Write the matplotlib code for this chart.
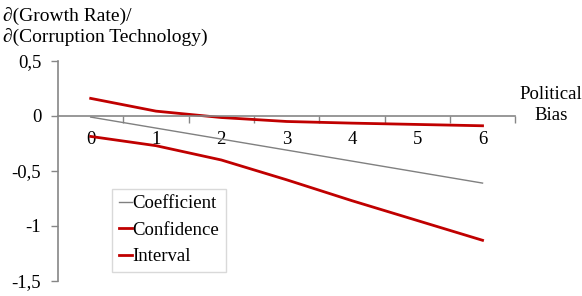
#!/usr/bin/env python3

import numpy as np
import matplotlib.pyplot as plt

# political bias levels
bias = [0, 1, 2, 3, 4, 5, 6]
coefficient = [-0.01, -0.11, -0.21, -0.31, -0.41, -0.51, -0.61]
ci_upper = [0.16, 0.044, -0.014, -0.05, -0.065, -0.077, -0.089]
ci_lower = [-0.186, -0.27, -0.40, -0.58, -0.77, -0.95, -1.13]

yticks = [0.5, 0, -0.5, -1, -1.5]
ytick_labels = ["0,5", "0", "-0,5", "-1", "-1,5"]

plt.rcParams['font.family'] = ['Liberation Serif', 'DejaVu Serif']
axis_col = "#868686"
red = "#C00000"

fig = plt.figure(figsize=(5.82, 2.96), dpi=100)
ax = fig.add_axes([0.0997, 0.0507, 0.7855, 0.7433])

ax.plot(bias, coefficient, color="#808080", lw=1.0, label="Coefficient")
ax.plot(bias, ci_upper, color=red, lw=2.0, label="Confidence")
ax.plot(bias, ci_lower, color=red, lw=2.0, label="Interval")

ax.set_xlim(-0.5, 6.5)
ax.set_ylim(-1.5, 0.5)

for s in ("top", "right"):
    ax.spines[s].set_visible(False)
ax.spines["bottom"].set_position(("data", 0))
ax.spines["bottom"].set_color(axis_col)
ax.spines["left"].set_color(axis_col)
ax.spines["bottom"].set_linewidth(1.2)
ax.spines["left"].set_linewidth(1.2)

ax.set_yticks(yticks)
ax.set_yticklabels(ytick_labels)
ax.tick_params(axis="y", length=5, color=axis_col, labelsize=13.5, pad=7, width=1)

ax.set_xticks(bias)
ax.set_xticklabels([str(b) for b in bias])
ax.set_xticks(np.arange(0.5, 7, 1.0), minor=True)
ax.tick_params(axis="x", which="major", length=0, labelsize=13.5, pad=11)
ax.tick_params(axis="x", which="minor", length=5, color=axis_col, width=1)

fig.text(0.005, 0.975, "\u2202(Growth Rate)/\n\u2202(Corruption Technology)",
         ha="left", va="top", fontsize=14, linespacing=1.2,
         family=['Liberation Serif', 'DejaVu Serif'])
fig.text(0.947, 0.645, "Political\nBias", ha="center", va="center",
         fontsize=13.5, linespacing=1.25)

leg = ax.legend(loc="upper left", bbox_to_anchor=(0.118, 0.42), fontsize=13.5,
                frameon=True, fancybox=False, handlelength=0.7,
                handletextpad=0.05, borderpad=0.35, labelspacing=0.5,
                borderaxespad=0)
leg.get_frame().set_edgecolor("#d0d0d0")
leg.get_frame().set_linewidth(1.0)

fig.savefig("out.png", dpi=100)
